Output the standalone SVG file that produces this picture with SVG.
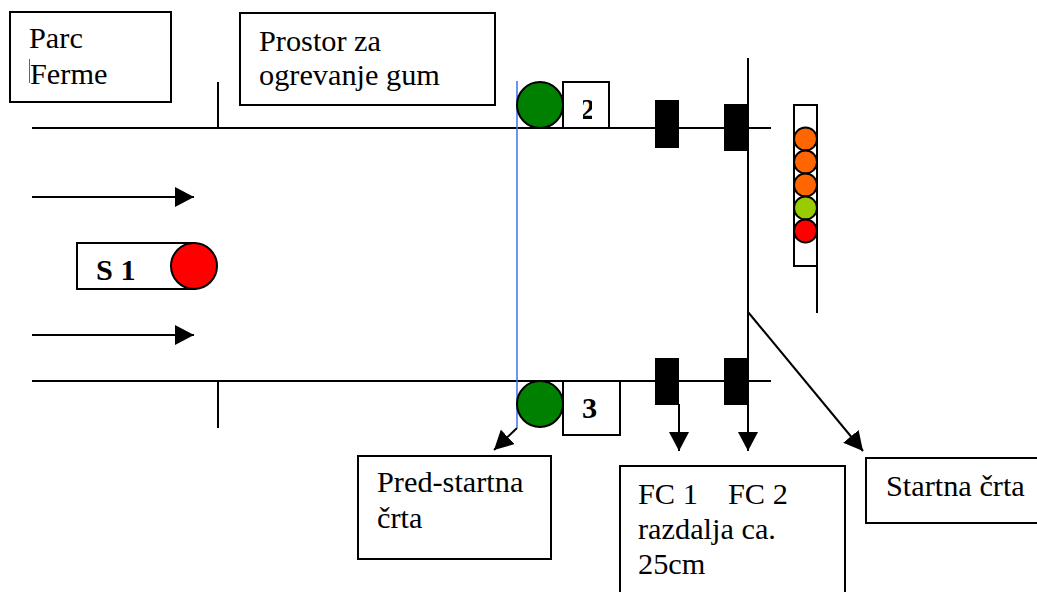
<svg xmlns="http://www.w3.org/2000/svg" width="1037" height="592" viewBox="0 0 1037 592">
<style>
.box{fill:#fff;stroke:#000;stroke-width:2}
.ln{fill:none;stroke:#000;stroke-width:2}
.blk{fill:#000}
.c{stroke:#000;stroke-width:2}
text{font-family:"Liberation Serif","Times New Roman",serif;font-size:30.300px;fill:#000}
.b{font-weight:bold}
</style>
<defs>
<marker id="a" markerUnits="userSpaceOnUse" markerWidth="20" markerHeight="20" refX="19" refY="10" orient="auto"><path d="M0 0L19 10L0 20Z" fill="#000"/></marker>
<clipPath id="clip2"><rect x="583" y="90" width="9" height="35"/></clipPath>
</defs>
<g id="connectors">
<path class="ln" d="M32 128H771M32 381H771M218 82V128M218 381V428M748 58V404"/>
<path class="ln" d="M32 197H194" marker-end="url(#a)"/>
<path class="ln" d="M32 335H194" marker-end="url(#a)"/>
<path class="ln" d="M679 404V451" marker-end="url(#a)"/>
<path class="ln" d="M748 404V451" marker-end="url(#a)"/>
<path class="ln" d="M748 312L863 451" marker-end="url(#a)"/>
<path class="ln" d="M517 428L494 450" marker-end="url(#a)"/>
<path d="M517 81V428" fill="none" stroke="#3f6ff0" stroke-width="1.500"/>
</g>
<g id="parc-ferme"><rect class="box" x="10" y="12" width="161" height="90"/><text x="29" y="48">Parc</text><text x="30" y="84">Ferme</text><path d="M29.500 59V83" stroke="#666" stroke-width="1"/></g>
<g id="prostor"><rect class="box" x="240" y="13" width="255" height="92"/><text x="259" y="51">Prostor za</text><text x="259" y="85">ogrevanje gum</text></g>
<g id="green-top"><circle cx="540" cy="105" r="23" fill="#008000" class="c"/></g>
<g id="box-2"><rect class="box" x="563" y="82" width="46" height="46"/><text class="b" x="580" y="119" clip-path="url(#clip2)">2</text></g>
<g id="green-bottom"><circle cx="540" cy="404" r="23" fill="#008000" class="c"/></g>
<g id="box-3"><rect class="box" x="563" y="381" width="57" height="54"/><text class="b" x="582" y="418">3</text></g>
<g id="fc1-top"><rect class="blk" x="655" y="100" width="24" height="48"/></g>
<g id="fc2-top"><rect class="blk" x="724" y="104" width="24" height="47"/></g>
<g id="fc1-bottom"><rect class="blk" x="655" y="358" width="24" height="47"/></g>
<g id="fc2-bottom"><rect class="blk" x="724" y="358" width="24" height="47"/></g>
<g id="lights">
<path class="ln" d="M817 128V313"/>
<rect class="box" x="794" y="105" width="23" height="161"/>
<circle class="c" cx="805.500" cy="139" r="11.500" fill="#f60"/>
<circle class="c" cx="805.500" cy="162" r="11.500" fill="#f60"/>
<circle class="c" cx="805.500" cy="185" r="11.500" fill="#f60"/>
<circle class="c" cx="805.500" cy="208" r="11.500" fill="#9c0"/>
<circle class="c" cx="805.500" cy="231" r="11.500" fill="#f00"/>
</g>
<g id="s1"><rect class="box" x="77" y="243" width="118" height="46"/><text class="b" x="96" y="280">S 1</text><circle class="c" cx="194" cy="266" r="23" fill="#f00"/></g>
<g id="pred-startna"><rect class="box" x="358" y="456" width="193" height="103"/><text x="377" y="492">Pred-startna</text><text x="377" y="528">črta</text></g>
<g id="fc"><rect class="box" x="620" y="466" width="225" height="130"/><text x="638" y="504">FC 1</text><text x="728" y="504">FC 2</text><text x="638" y="539">razdalja ca.</text><text x="638" y="574">25cm</text></g>
<g id="startna"><rect class="box" x="866" y="458" width="175" height="65"/><text x="886" y="496">Startna črta</text></g>
</svg>
